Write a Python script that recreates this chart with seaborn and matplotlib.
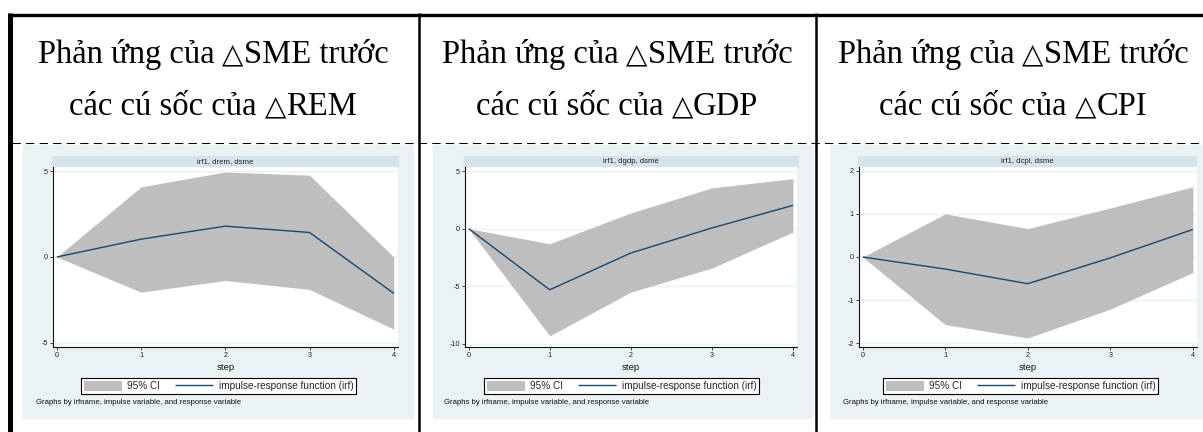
#!/usr/bin/env python3

import matplotlib
matplotlib.use('Agg')

import pandas as pd
import seaborn as sns
from matplotlib import pyplot as plt
from matplotlib.lines import Line2D
from matplotlib.patches import Patch, Rectangle

# impulse-response values
steps = [0, 1, 2, 3, 4]

rem_irf = [0, 1.04, 1.80, 1.43, -2.12]
rem_lo = [0, -2.05, -1.37, -1.89, -4.21]
rem_hi = [0, 4.09, 4.96, 4.77, 0.0]

gdp_irf = [0, -5.32, -2.12, 0.06, 2.03]
gdp_lo = [0, -9.33, -5.52, -3.43, -0.29]
gdp_hi = [0, -1.31, 1.37, 3.55, 4.36]

cpi_irf = [0, -0.28, -0.62, -0.02, 0.64]
cpi_lo = [0, -1.57, -1.88, -1.21, -0.36]
cpi_hi = [0, 1.00, 0.66, 1.14, 1.63]

# header cells: (text before triangle, triangle, text after)
header_top = ('Phản ứng của ', '△', 'SME trước')
header_bottom = [('các cú sốc của ', '△', 'REM'),
                 ('các cú sốc của ', '△', 'GDP'),
                 ('các cú sốc của ', '△', 'CPI')]
strip_titles = ['irf1, drem, dsme', 'irf1, dgdp, dsme', 'irf1, dcpi, dsme']
y_ticks = [[-5, 0, 5], [-10, -5, 0, 5], [-2, -1, 0, 1, 2]]
x_label = 'step'
ci_label = '95% CI'
irf_label = 'impulse-response function (irf)'
note = 'Graphs by irfname, impulse variable, and response variable'

W, H = 1203, 432
BG = '#eaf2f3'
STRIP = '#d6e3e8'
CI = '#bebebe'
NAVY = '#1a476f'
SERIF = ['Liberation Serif', 'DejaVu Sans']
HEAD_SIZE = 23.5

sns.set_theme(style='white')
plt.rcParams['font.family'] = ['Liberation Sans', 'DejaVu Sans']
plt.rcParams['axes.unicode_minus'] = False
plt.rcParams['lines.solid_capstyle'] = 'butt'


def frac(l, t, r, b):
    # pixel box (top-left origin) -> figure fraction rect
    return [l / W, 1 - b / H, (r - l) / W, (b - t) / H]


def fx(x):
    return x / W


def fy(y):
    return 1 - y / H


fig = plt.figure(figsize=(W / 100, H / 100), dpi=100)
renderer = fig.canvas.get_renderer()


def header_line(xc, baseline, parts):
    # serif words with a slightly smaller sans triangle, centred as one line
    before, tri, after = parts
    specs = [(before, SERIF, HEAD_SIZE), (tri, ['DejaVu Sans'], HEAD_SIZE * 0.85),
             (after, SERIF, HEAD_SIZE)]
    texts = []
    for s, fam, size in specs:
        t = fig.text(0, fy(baseline), s, family=fam, fontsize=size, va='baseline',
                     ha='left', color='black')
        texts.append(t)
    widths = [t.get_window_extent(renderer).width for t in texts]
    x = xc - sum(widths) / 2
    for t, w in zip(texts, widths):
        t.set_x(fx(x))
        x += w


panels = [
    dict(irf=rem_irf, lo=rem_lo, hi=rem_hi, ylim=(-5.25, 5.25),
         bg=(23, 145, 413, 418), strip=(52, 156, 398, 167), plot=(53, 167, 398, 347),
         leg=218.5, note_x=36, head=213),
    dict(irf=gdp_irf, lo=gdp_lo, hi=gdp_hi, ylim=(-10.3, 5.37),
         bg=(433, 145, 812, 418), strip=(464, 156, 798, 167), plot=(465, 167, 797, 347),
         leg=621.5, note_x=444, head=617),
    dict(irf=cpi_irf, lo=cpi_lo, hi=cpi_hi, ylim=(-2.09, 2.09),
         bg=(831, 145, 1215, 418), strip=(858, 156, 1196, 167), plot=(859, 167, 1197, 347),
         leg=1020.5, note_x=843, head=1013),
]

for i, p in enumerate(panels):
    # Stata graph region + by-title strip
    fig.patches.append(Rectangle(frac(*p['bg'])[:2], *frac(*p['bg'])[2:],
                                 transform=fig.transFigure, color=BG, zorder=-2))
    fig.patches.append(Rectangle(frac(*p['strip'])[:2], *frac(*p['strip'])[2:],
                                 transform=fig.transFigure, color=STRIP, zorder=-1))
    sl, st, sr, sb = p['strip']
    fig.text(fx((sl + sr) / 2), fy((st + sb) / 2), strip_titles[i], ha='center', va='center',
             fontsize=5.6, color='#222222')

    ax = fig.add_axes(frac(*p['plot']))
    ax.set_facecolor('white')
    df = pd.DataFrame({'step': steps, 'irf': p['irf'], 'lo': p['lo'], 'hi': p['hi']})
    ax.fill_between(df['step'], df['lo'], df['hi'], color=CI, lw=0, zorder=2)
    sns.lineplot(data=df, x='step', y='irf', ax=ax, color=NAVY, lw=1.0, zorder=3)

    ax.set_xlim(-0.045, 4.05)
    ax.set_ylim(*p['ylim'])
    ax.set_xticks(steps)
    ax.set_yticks(y_ticks[i])
    for yv in y_ticks[i]:
        ax.axhline(yv, color=BG, lw=1.0, zorder=1)
    ax.set_xlabel('')
    ax.set_ylabel('')
    ax.tick_params(axis='both', labelsize=5.2, colors='#222222', length=2.2, width=0.6,
                   pad=1.5, direction='out', bottom=True, left=True)
    for s in ['top', 'right']:
        ax.spines[s].set_visible(False)
    for s in ['left', 'bottom']:
        ax.spines[s].set_color('#111111')
        ax.spines[s].set_linewidth(0.8)

    pl, pt, pr, pb = p['plot']
    fig.text(fx((pl + pr) / 2), fy(368), x_label, ha='center', va='center',
             fontsize=6.8, color='#111111')

    handles = [Patch(facecolor=CI, edgecolor='none'), Line2D([], [], color=NAVY, lw=1.0)]
    leg = fig.legend(handles, [ci_label, irf_label], loc='center',
                     bbox_to_anchor=(fx(p['leg']), fy(386)), bbox_transform=fig.transFigure,
                     ncol=2, fontsize=7.2, frameon=True, fancybox=False, borderpad=0.3,
                     handlelength=3.8, handleheight=1.1, handletextpad=0.55,
                     columnspacing=1.5, borderaxespad=0)
    leg.get_frame().set_edgecolor('black')
    leg.get_frame().set_linewidth(0.8)
    leg.get_frame().set_facecolor('white')
    leg.get_frame().set_alpha(1)

    fig.text(fx(p['note_x']), fy(402), note, ha='left', va='center', fontsize=5.6,
             color='#111111')

    # table header cell
    header_line(p['head'], 63, header_top)
    header_line(p['head'], 115, header_bottom[i])

# table rules
fig.add_artist(Line2D([fx(8), fx(1203)], [fy(14.5), fy(14.5)], color='black', lw=2.4,
                      transform=fig.transFigure))
fig.add_artist(Line2D([fx(10), fx(10)], [fy(13), fy(432)], color='black', lw=3.6,
                      transform=fig.transFigure))
for xv in [418.5, 816]:
    fig.add_artist(Line2D([fx(xv), fx(xv)], [fy(13), fy(432)], color='black', lw=1.8,
                          transform=fig.transFigure))
fig.add_artist(Line2D([fx(12), fx(1203)], [fy(143), fy(143)], color='black', lw=0.75,
                      ls=(0, (8, 5)), transform=fig.transFigure))

fig.savefig('out.png', dpi=100)
